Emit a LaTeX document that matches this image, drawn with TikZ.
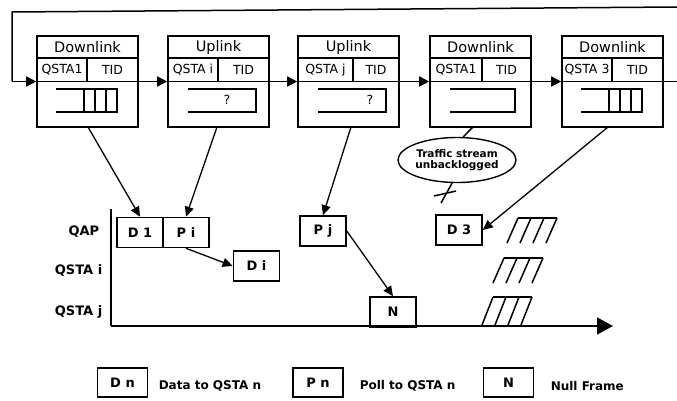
\documentclass[tikz,border=0pt]{standalone}
\usepackage{fontspec}
\setmainfont{DejaVu Sans}
\usetikzlibrary{arrows.meta,shapes.geometric}
\begin{document}
\begin{tikzpicture}[x=1pt,y=-1pt,line width=1.5pt,
  tbox/.style={draw,line width=1.6pt,minimum width=101pt,minimum height=91pt,inner sep=0pt},
  frame/.style={draw,line width=1.6pt,inner sep=0pt,minimum width=46pt,minimum height=30pt,font=\bfseries\fontsize{13}{13}\selectfont},
  legbox/.style={draw,line width=1.6pt,inner sep=0pt,minimum width=50pt,minimum height=29pt,font=\bfseries\fontsize{13}{13}\selectfont},
  hdr/.style={font=\fontsize{14.5}{14.5}\selectfont,inner sep=0pt},
  cell/.style={font=\fontsize{12.5}{12.5}\selectfont,inner sep=0pt},
  flow/.style={-{Triangle[length=10pt,width=10pt]}},
  conn/.style={-{Triangle[length=10pt,width=9pt]},line width=1.3pt},
  rowlbl/.style={font=\bfseries\fontsize{13}{13}\selectfont,inner sep=0pt,anchor=east},
  leg/.style={font=\bfseries\fontsize{12}{12}\selectfont,inner sep=0pt,anchor=west},
  ell/.style={draw,ellipse,line width=1.4pt,minimum width=118pt,minimum height=45pt,inner sep=0pt,align=center,font=\bfseries\fontsize{10.5}{11.5}\selectfont}
]
\useasboundingbox (0,0) rectangle (677,401);

% top boxes
\foreach \n/\l/\h/\q/\d in {b1/37/Downlink/QSTA1/50, b2/168/Uplink/QSTA i/50, b3/298/Uplink/QSTA j/55, b4/430/Downlink/QSTA1/52, b5/562/Downlink/QSTA 3/50}{
  \node[tbox] (\n) at (\l+50.5,81.5) {};
  \draw[line width=1.6pt] (\l,58) -- (\l+101,58);
  \draw[line width=1.6pt] (\l+\d,58) -- (\l+\d,81.5);
  \node[hdr] at (\l+50.5,47.5) {\h};
  \node[cell] at (\l+\d/2,70) {\q};
  \node[cell] at ({\l+(\d+101)/2},70) {TID};
}

% buffers
\foreach \l in {37,562}{
  \draw (\l+19,89) -- (\l+80,89) -- (\l+80,112) -- (\l+19,112);
  \foreach \v in {47,58,69} \draw (\l+\v,89) -- (\l+\v,112);
}
\foreach \l/\r/\qx in {168/88/59, 298/88/72}{
  \draw (\l+20,89) -- (\l+\r,89) -- (\l+\r,112) -- (\l+20,112);
  \node[cell] at (\l+\qx,100) {?};
}
\draw (450,89) -- (515,89) -- (515,112) -- (450,112);

% loop and flow line
\coordinate (tr) at (677,7);
\coordinate (tl) at (12,12);
\coordinate (bl) at (12,81.5);
\coordinate (er) at (677,81.5);
\draw (tr) -- (tl) -- (bl);
\draw[flow] (bl) -- (b1.west);
\draw (b1.west) -- (b1.east);
\draw[flow] (b1.east) -- (b2.west);
\draw (b2.west) -- (b2.east);
\draw[flow] (b2.east) -- (b3.west);
\draw (b3.west) -- (b3.east);
\draw[flow] (b3.east) -- (b4.west);
\draw (b4.west) -- (b4.east);
\draw[flow] (b4.east) -- (b5.west);
\draw (b5.west) -- (er);

% timeline frames
\node[frame] (d1) at (140,232.5) {D 1};
\node[frame] (pi) at (186,232.5) {P i};
\node[frame] (di) at (256.5,266) {D i};
\node[frame] (pj) at (323,231) {P j};
\node[frame] (nf) at (393,312) {N};
\node[frame] (d3) at (459,230) {D 3};

% ellipse
\node[ell] (el) at (457,160) {Traffic stream\\unbacklogged};

% axes
\coordinate (ytop) at (111,209);
\coordinate (org) at (111,326);
\coordinate (xend) at (613,326);
\draw (ytop) -- (org);
\draw[-{Triangle[length=16pt,width=17pt]}] (org) -- (xend);

% row labels
\node[rowlbl] at (100,232) {QAP};
\node[rowlbl] at (103,271) {QSTA i};
\node[rowlbl] at (103,312) {QSTA j};

% connectors
\coordinate (s1) at (88,127);
\coordinate (s2) at (217,127);
\coordinate (s3) at (351,127);
\coordinate (s4) at (473,127);
\coordinate (s5) at (608,127);
\draw[conn] (s1) -- (d1.north);
\draw[conn] (s2) -- (pi.north);
\draw[conn] (s3) -- (pj.north);
\draw[conn] (s5) -- (d3.east);
\draw[conn] (pi.south) -- (di.west);
\draw[conn] (pj.east) -- (nf.north);
\draw (s4) -- (el.75);
\coordinate (xe) at (441,203);
\draw (el.258) -- (xe);
\draw (434,196) -- (456,191);

% hatched groups
\foreach \b/\yb/\yt in {507/243/218, 493/283/258, 482/325/297}{
  \foreach \k in {0,1,2,3} \draw (\b+13*\k,\yb) -- (\b+13*\k+11,\yt);
  \draw (\b+11,\yt) -- (\b+50,\yt);
}

% legend
\node[legbox] (ld) at (122.5,382.5) {D n};
\node[leg] (ldt) at (158,386) {Data to QSTA n};
\node[legbox] (lp) at (318,382.5) {P n};
\node[leg] (lpt) at (359,386) {Poll to QSTA n};
\node[legbox] (ln) at (508.5,382.5) {N};
\node[leg] (lnt) at (550,386) {Null Frame};
\end{tikzpicture}
\end{document}
